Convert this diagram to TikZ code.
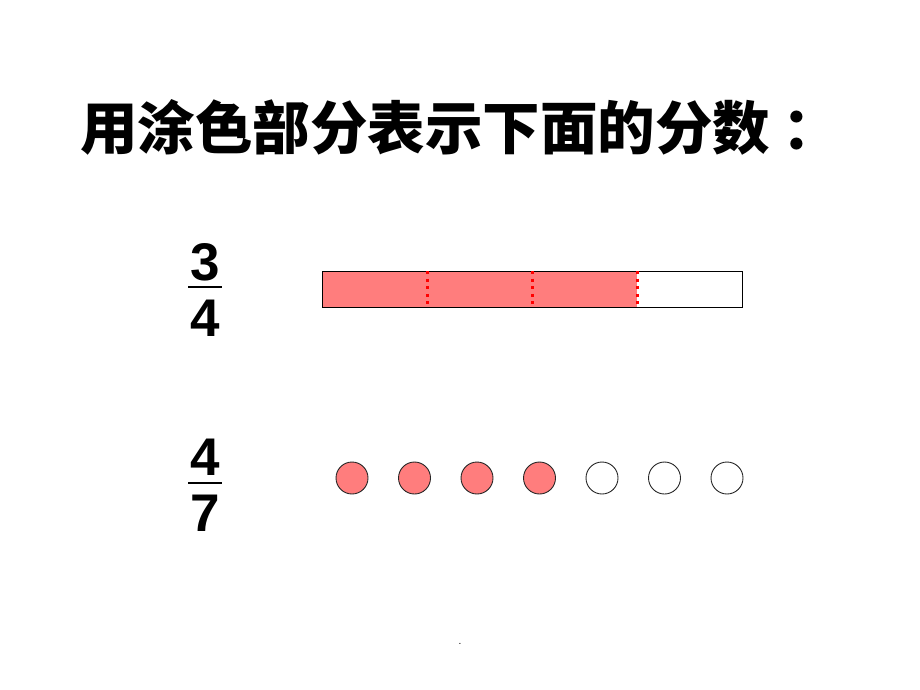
\documentclass[tikz,border=0pt]{standalone}
\usepackage{fontspec}
\setmainfont{Liberation Sans}
\newfontfamily\cjk{Noto Sans CJK SC}
\usetikzlibrary{positioning}
\definecolor{shade}{RGB}{255,125,125}
\tikzstyle{heading} = [font=\cjk\bfseries\fontsize{57.5}{60}\selectfont, inner sep=0pt]
\tikzstyle{digit} = [font=\bfseries\fontsize{53}{60}\selectfont, inner sep=0pt]
\tikzstyle{part} = [rectangle, minimum width=105pt, minimum height=36pt, inner sep=0pt, outer sep=0pt]
\tikzstyle{shaded} = [part, fill=shade]
\tikzstyle{blank} = [part, fill=white]
\tikzstyle{ball} = [circle, minimum size=32pt, inner sep=0pt, outer sep=0pt, draw=black!85, line width=0.9pt]
\tikzstyle{divider} = [red, line width=3pt, dash pattern=on 3pt off 4.6pt]
\tikzstyle{fracbar} = [black, line width=2.5pt]

\begin{document}
\begin{tikzpicture}[x=1pt, y=-1pt]
    \useasboundingbox (0,0) rectangle (920,690);

    \node (title) [heading, anchor=west] at (80,127) {用涂色部分表示下面的分数\hspace{12pt}：};

    % three quarters
    \node (num3) [digit] at (205,262) {3};
    \node (den4) [digit, below=19pt of num3] {4};
    \coordinate (barAl) at (188,287);
    \coordinate (barAr) at (222,287);
    \draw [fracbar] (barAl) -- (barAr);

    \node (part1) [shaded] at (374.5,289) {};
    \node (part2) [shaded, right=0pt of part1] {};
    \node (part3) [shaded, right=0pt of part2] {};
    \node (part4) [blank, right=0pt of part3] {};
    \draw [black, line width=1pt] (part1.north west) rectangle (part4.south east);
    \draw [divider] (part1.north east) -- (part1.south east);
    \draw [divider] (part2.north east) -- (part2.south east);
    \draw [divider] (part3.north east) -- (part3.south east);

    % four sevenths
    \node (num4) [digit] at (205,457) {4};
    \node (den7) [digit, below=19pt of num4] {7};
    \coordinate (barBl) at (188,483);
    \coordinate (barBr) at (222,483);
    \draw [fracbar] (barBl) -- (barBr);

    \node (ball1) [ball, fill=shade] at (352,478) {};
    \node (ball2) [ball, fill=shade, right=30.5pt of ball1] {};
    \node (ball3) [ball, fill=shade, right=30.5pt of ball2] {};
    \node (ball4) [ball, fill=shade, right=30.5pt of ball3] {};
    \node (ball5) [ball, right=30.5pt of ball4] {};
    \node (ball6) [ball, right=30.5pt of ball5] {};
    \node (ball7) [ball, right=30.5pt of ball6] {};

    \node (mark) [font=\fontsize{10}{12}\selectfont] at (460,644) {.};
\end{tikzpicture}
\end{document}
